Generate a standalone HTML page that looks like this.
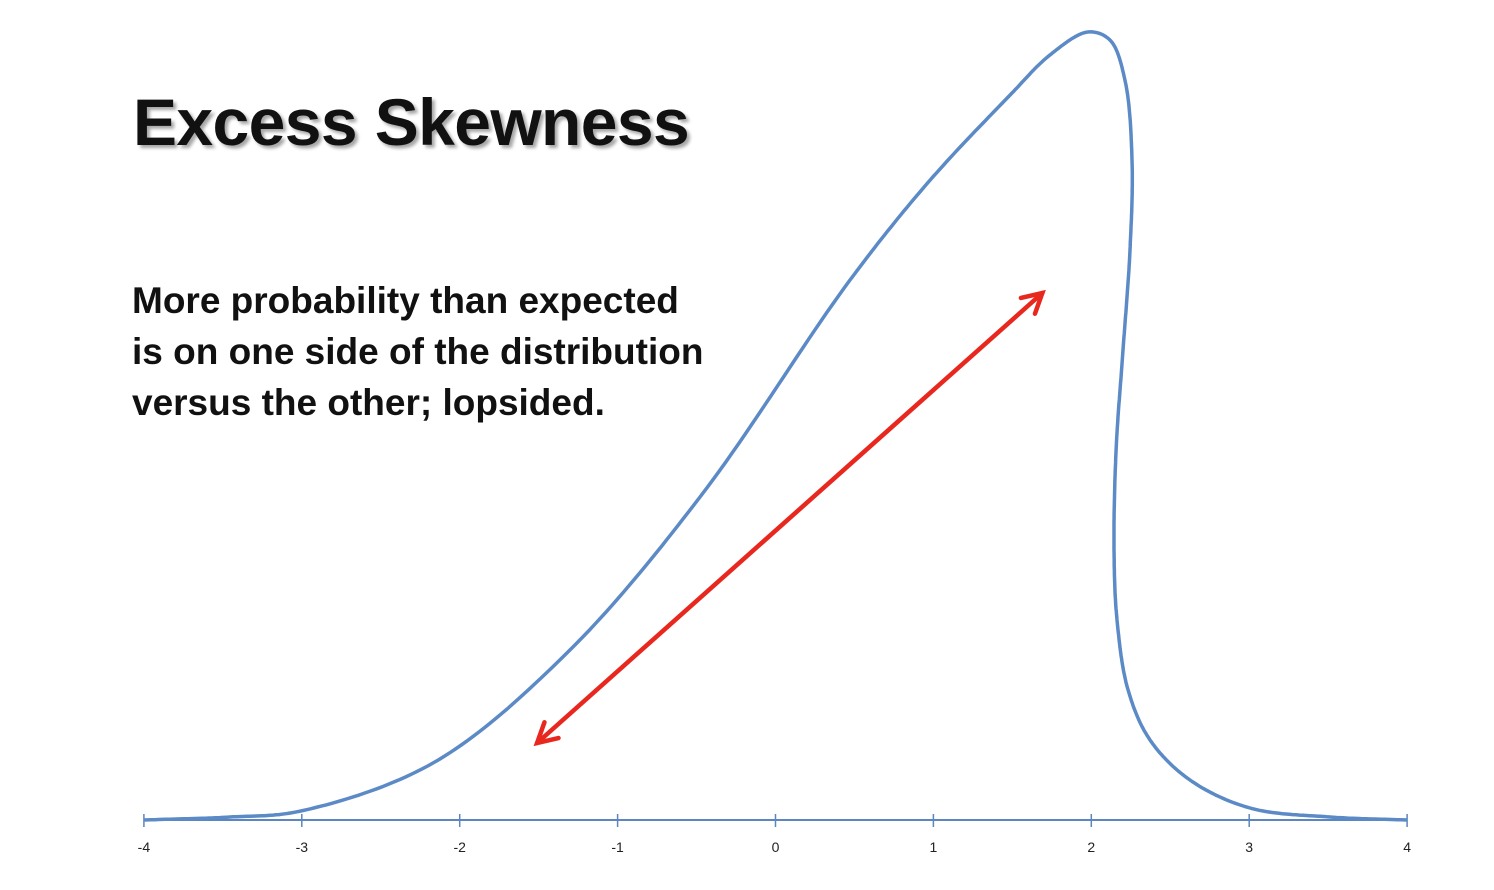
<!DOCTYPE html>
<html><head><meta charset="utf-8"><style>
body{margin:0;background:#fff;width:1494px;height:890px;overflow:hidden;position:relative;font-family:"Liberation Sans",sans-serif}
#title{position:absolute;left:133px;top:89px;font-size:66px;font-weight:bold;letter-spacing:-0.6px;color:#111;text-shadow:3px 3px 3px rgba(0,0,0,0.35);margin:0;line-height:1}
#desc{position:absolute;left:132px;top:275px;font-size:37px;font-weight:bold;color:#111;line-height:51px;letter-spacing:0px}
svg{position:absolute;left:0;top:0}
</style></head><body>
<svg id="chart" width="1494" height="890"></svg>
<h1 id="title">Excess Skewness</h1>
<div id="desc">More probability than expected<br>is on one side of the distribution<br>versus the other; lopsided.</div>
<script>
const xTicks=[-4,-3,-2,-1,0,1,2,3,4];
const curveX=[-4.0,-3.455,-3.006,-2.169,-1.321,-0.478,0.472,0.98,1.486,1.738,1.979,2.118,2.213,2.258,2.245,2.201,2.157,2.144,2.163,2.233,2.372,2.625,3.005,3.512,4.0];
const curveY=[0,0.03,0.09,0.57,1.67,3.23,5.40,6.40,7.25,7.65,7.88,7.80,7.40,6.60,5.70,4.70,3.70,2.70,2.00,1.30,0.80,0.40,0.12,0.03,0];
const arrowFrom=[-1.51,0.77];
const arrowTo=[1.69,5.27];
const NS="http://www.w3.org/2000/svg";
const svg=document.getElementById('chart');
const sx=v=>775.5+v*157.9;
const sy=v=>820-v*100;
function mk(t,a,p){const e=document.createElementNS(NS,t);for(const k in a)e.setAttribute(k,a[k]);(p||svg).appendChild(e);return e;}
const axis=mk('line',{x1:sx(-4),x2:sx(4),y1:sy(0),y2:sy(0),stroke:'#5b86c0','stroke-width':2});


xTicks.forEach(t=>{
  const l=mk('line',{x1:sx(t),x2:sx(t),y1:814,y2:827,stroke:'#5b86c0','stroke-width':1.5});
  
  
  const tx=mk('text',{x:sx(t),y:852,'text-anchor':'middle','font-size':14,fill:'#222','font-family':'Liberation Sans, sans-serif'});
  tx.textContent=String(t);
  
  
});
const P=curveX.map((x,i)=>[sx(x),sy(curveY[i])]);
const ext=[[2*P[0][0]-P[1][0],2*P[0][1]-P[1][1]],...P,[2*P[P.length-1][0]-P[P.length-2][0],2*P[P.length-1][1]-P[P.length-2][1]]];
function tj(ti,a,b){return ti+Math.pow(Math.hypot(b[0]-a[0],b[1]-a[1]),0.5)+1e-6;}
let pts=[];
for(let i=1;i<ext.length-2;i++){
  const p0=ext[i-1],p1=ext[i],p2=ext[i+1],p3=ext[i+2];
  const t0=0,t1=tj(t0,p0,p1),t2=tj(t1,p1,p2),t3=tj(t2,p2,p3);
  for(let k=0;k<24;k++){
    const t=t1+(t2-t1)*k/24;
    const L=(a,b,ta,tb)=>[(tb-t)/(tb-ta)*a[0]+(t-ta)/(tb-ta)*b[0],(tb-t)/(tb-ta)*a[1]+(t-ta)/(tb-ta)*b[1]];
    const A1=L(p0,p1,t0,t1),A2=L(p1,p2,t1,t2),A3=L(p2,p3,t2,t3);
    const B1=L(A1,A2,t0,t2),B2=L(A2,A3,t1,t3);
    pts.push(L(B1,B2,t1,t2));
  }
}
pts.push(P[P.length-1]);
const curve=mk('path',{d:'M'+pts.map(p=>p[0].toFixed(1)+','+p[1].toFixed(1)).join(' L'),fill:'none',stroke:'#5b8ac6','stroke-width':3.5,'stroke-linejoin':'round'});


const ax1=sx(arrowFrom[0]),ay1=sy(arrowFrom[1]),ax2=sx(arrowTo[0]),ay2=sy(arrowTo[1]);
const g=mk('g',{stroke:'#e8281e','stroke-width':4.5,fill:'none','stroke-linecap':'round'});


mk('line',{x1:ax1,y1:ay1,x2:ax2,y2:ay2},g);
const ang=Math.atan2(ay2-ay1,ax2-ax1),HL=22,s=0.5;
function head(x,y,a){mk('polyline',{points:[[x-HL*Math.cos(a-s),y-HL*Math.sin(a-s)],[x,y],[x-HL*Math.cos(a+s),y-HL*Math.sin(a+s)]].join(' ')},g);}
head(ax2,ay2,ang);head(ax1,ay1,ang+Math.PI);
</script>
</body></html>
